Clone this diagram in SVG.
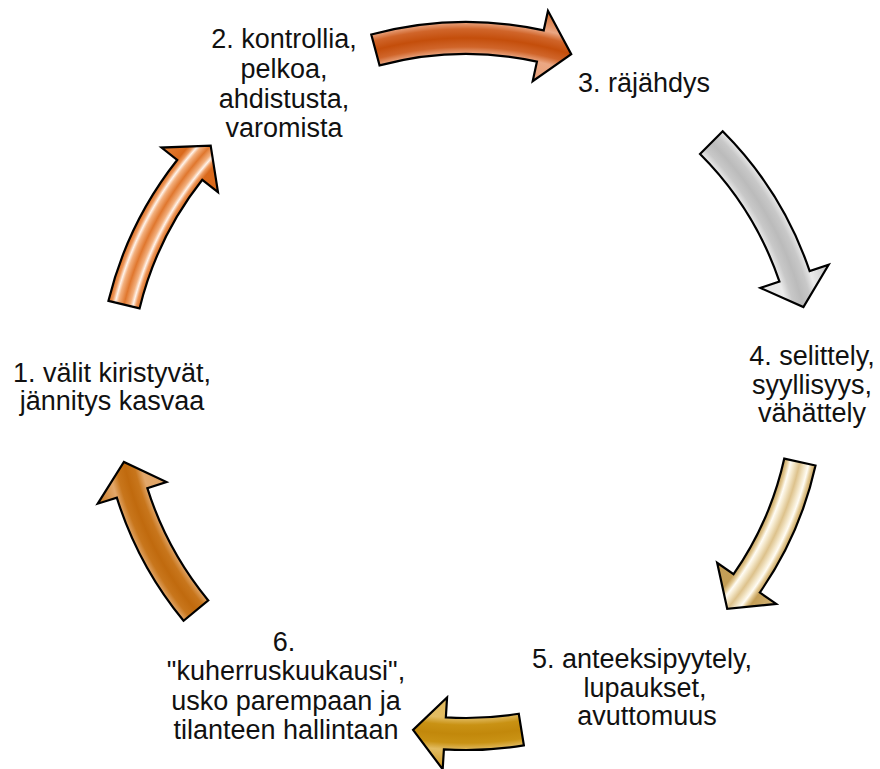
<svg xmlns="http://www.w3.org/2000/svg" width="880" height="769" viewBox="0 0 880 769">
<style>
.lbl{font-family:"Liberation Sans",Arial,sans-serif;font-size:27px;fill:#111;text-anchor:middle}
.arr{stroke:#000;stroke-width:2.2;stroke-linejoin:miter}
</style>
<defs>
<radialGradient id="gA" gradientUnits="userSpaceOnUse" cx="466" cy="388" r="390">
<stop offset="0" stop-color="#C9560F"/><stop offset=".8564" stop-color="#EBA783"/><stop offset=".8744" stop-color="#D0652A"/><stop offset=".8974" stop-color="#C44E0B"/><stop offset=".9205" stop-color="#D0652A"/><stop offset=".9385" stop-color="#EBA783"/><stop offset="1" stop-color="#C9560F"/>
</radialGradient>
<radialGradient id="gB" gradientUnits="userSpaceOnUse" cx="466" cy="388" r="387">
<stop offset="0" stop-color="#BEBEBE"/><stop offset=".8553" stop-color="#EAEAEA"/><stop offset=".8734" stop-color="#C8C8C8"/><stop offset=".8966" stop-color="#BBBBBB"/><stop offset=".9199" stop-color="#C8C8C8"/><stop offset=".9380" stop-color="#EAEAEA"/><stop offset="1" stop-color="#BEBEBE"/>
</radialGradient>
<radialGradient id="gC" gradientUnits="userSpaceOnUse" cx="466" cy="388" r="382">
<stop offset="0" stop-color="#D8BC84"/><stop offset=".8534" stop-color="#C49E56"/><stop offset=".8639" stop-color="#E6CE9C"/><stop offset=".8717" stop-color="#FFFCF4"/><stop offset=".8822" stop-color="#F2E4C4"/><stop offset=".8953" stop-color="#DDC28C"/><stop offset=".9084" stop-color="#F2E4C4"/><stop offset=".9188" stop-color="#FFFCF4"/><stop offset=".9267" stop-color="#E6CE9C"/><stop offset=".9372" stop-color="#C49E56"/><stop offset="1" stop-color="#D8BC84"/>
</radialGradient>
<radialGradient id="gD" gradientUnits="userSpaceOnUse" cx="466" cy="388" r="386">
<stop offset="0" stop-color="#C68B0F"/><stop offset=".8549" stop-color="#E2BC62"/><stop offset=".8731" stop-color="#C99214"/><stop offset=".8964" stop-color="#C2880B"/><stop offset=".9197" stop-color="#C99214"/><stop offset=".9378" stop-color="#E2BC62"/><stop offset="1" stop-color="#C68B0F"/>
</radialGradient>
<radialGradient id="gE" gradientUnits="userSpaceOnUse" cx="466" cy="388" r="390">
<stop offset="0" stop-color="#C46F12"/><stop offset=".8564" stop-color="#E2A76A"/><stop offset=".8744" stop-color="#C8761C"/><stop offset=".8974" stop-color="#C06A0E"/><stop offset=".9205" stop-color="#C8761C"/><stop offset=".9385" stop-color="#E2A76A"/><stop offset="1" stop-color="#C46F12"/>
</radialGradient>
<radialGradient id="gF" gradientUnits="userSpaceOnUse" cx="466" cy="388" r="392">
<stop offset="0" stop-color="#E8873E"/><stop offset=".8571" stop-color="#D9691C"/><stop offset=".8673" stop-color="#EE9A5E"/><stop offset=".8750" stop-color="#FFF3EA"/><stop offset=".8827" stop-color="#F3B07E"/><stop offset=".8980" stop-color="#E0772E"/><stop offset=".9133" stop-color="#F3B07E"/><stop offset=".9209" stop-color="#FFF3EA"/><stop offset=".9286" stop-color="#EE9A5E"/><stop offset=".9388" stop-color="#D9691C"/><stop offset="1" stop-color="#E8873E"/>
</radialGradient>
</defs>
<rect width="880" height="769" fill="#fff"/>
<g id="connectors">
<path id="arrow-2-3" class="arr" fill="url(#gA)" d="M371.27,34.47 A366,366 0 0,1 543.72,30.35 L547.97,10.80 L571.25,54.20 L532.68,81.16 L536.93,61.62 A334,334 0 0,0 379.55,65.38 Z"/>
<path id="arrow-3-4" class="arr" fill="url(#gB)" d="M722.68,131.32 A363,363 0 0,1 809.68,271.16 L828.62,264.72 L803.41,306.99 L760.45,287.90 L779.39,281.46 A331,331 0 0,0 700.05,153.95 Z"/>
<path id="arrow-4-5" class="arr" fill="url(#gC)" d="M815.52,465.49 A358,358 0 0,1 759.82,592.53 L776.24,603.95 L727.22,608.75 L717.15,562.82 L733.56,574.24 A326,326 0 0,0 784.27,458.56 Z"/>
<path id="arrow-5-6" class="arr" fill="url(#gD)" d="M523.88,745.34 A362,362 0 0,1 443.90,749.32 L442.68,769.29 L413.07,729.93 L447.07,697.42 L445.85,717.38 A330,330 0 0,0 518.76,713.76 Z"/>
<path id="arrow-6-1" class="arr" fill="url(#gE)" d="M183.59,620.81 A366,366 0 0,1 116.82,497.69 L97.74,503.68 L123.90,461.96 L166.43,482.11 L147.35,488.10 A334,334 0 0,0 208.28,600.45 Z"/>
<path id="arrow-1-2" class="arr" fill="url(#gF)" d="M108.47,300.84 A368,368 0 0,1 177.17,159.97 L161.47,147.57 L210.67,145.70 L217.98,192.19 L202.29,179.79 A336,336 0 0,0 139.56,308.42 Z"/>
</g>
<g id="node1">
<text class="lbl" x="112" y="382">1. välit kiristyvät,</text>
<text class="lbl" x="112" y="410">jännitys kasvaa</text>
</g>
<g id="node2">
<text class="lbl" x="284" y="48">2. kontrollia,</text>
<text class="lbl" x="284" y="78">pelkoa,</text>
<text class="lbl" x="284" y="107.5">ahdistusta,</text>
<text class="lbl" x="284" y="137">varomista</text>
</g>
<g id="node3">
<text class="lbl" x="644" y="92">3. räjähdys</text>
</g>
<g id="node4">
<text class="lbl" x="812" y="365">4. selittely,</text>
<text class="lbl" x="812" y="394">syyllisyys,</text>
<text class="lbl" x="812" y="422">vähättely</text>
</g>
<g id="node5">
<text class="lbl" x="642" y="668">5. anteeksipyytely,</text>
<text class="lbl" x="645" y="697">lupaukset,</text>
<text class="lbl" x="647" y="725">avuttomuus</text>
</g>
<g id="node6">
<text class="lbl" x="284" y="651">6.</text>
<text class="lbl" x="286" y="680">"kuherruskuukausi",</text>
<text class="lbl" x="286" y="710">usko parempaan ja</text>
<text class="lbl" x="286" y="739">tilanteen hallintaan</text>
</g>
</svg>
